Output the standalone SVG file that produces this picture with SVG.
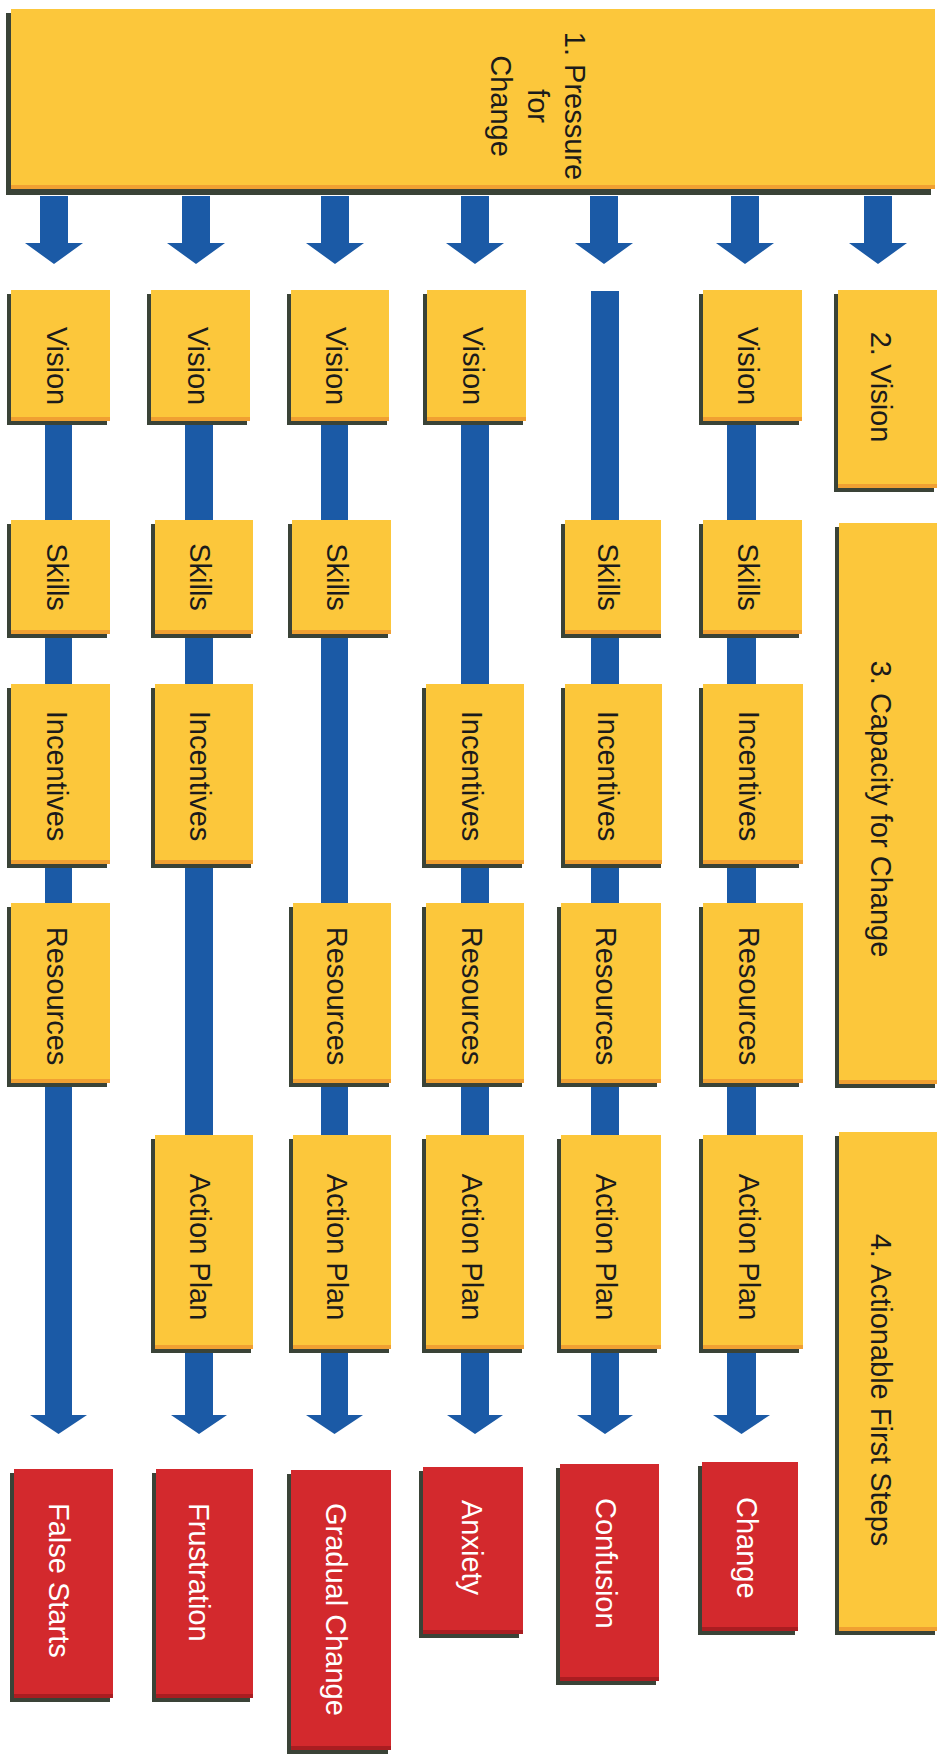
<svg xmlns="http://www.w3.org/2000/svg" width="948" height="1754" viewBox="0 0 948 1754">
<style>
.sh{fill:#3a4337}
.y{fill:#FCC73B}
.ye{fill:#F0A032}
.r{fill:#D3292D}
.re{fill:#A91D21}
.bl{fill:#1B5AA6}
.t{font-family:"Liberation Sans",Arial,sans-serif;font-size:29px}
.tk{fill:#1b1b1b;text-anchor:middle}
.tw{fill:#ffffff;text-anchor:start}
</style>
<rect width="948" height="1754" fill="#ffffff"/>

<g id="connectors">
  <!-- arrows from Pressure for Change -->
  <polygon class="bl" points="40,196 68,196 68,243 83,243 54,264 25,243 40,243"/>
  <polygon class="bl" points="182,196 210,196 210,243 225,243 196,264 167,243 182,243"/>
  <polygon class="bl" points="321,196 349,196 349,243 364,243 335,264 306,243 321,243"/>
  <polygon class="bl" points="461,196 489,196 489,243 504,243 475,264 446,243 461,243"/>
  <polygon class="bl" points="590,196 618,196 618,243 633,243 604,264 575,243 590,243"/>
  <polygon class="bl" points="731,196 759,196 759,243 774,243 745,264 716,243 731,243"/>
  <polygon class="bl" points="864,196 892,196 892,243 907,243 878,264 849,243 864,243"/>
  <!-- column lines with arrowheads to outcomes -->
  <polygon class="bl" points="45,291 72,291 72,1415 87,1415 58.5,1434 30,1415 45,1415"/>
  <polygon class="bl" points="185,291 213,291 213,1415 227,1415 199,1434 171,1415 185,1415"/>
  <polygon class="bl" points="321,291 348,291 348,1415 363,1415 334.5,1434 306,1415 321,1415"/>
  <polygon class="bl" points="461,291 489,291 489,1415 503,1415 475,1434 447,1415 461,1415"/>
  <polygon class="bl" points="591,291 619,291 619,1415 633,1415 605,1434 577,1415 591,1415"/>
  <polygon class="bl" points="727,291 756,291 756,1415 770,1415 741.5,1434 713,1415 727,1415"/>
</g>

<g id="pressure">
  <rect class="sh" x="6" y="13" width="925" height="182"/>
  <rect class="y" x="11" y="9" width="924" height="180"/>
  <rect class="ye" x="11" y="185" width="924" height="4"/>
  <text class="t tk" transform="translate(538,106) rotate(90)"><tspan x="0" y="-26.5">1. Pressure</tspan><tspan x="0" dy="37">for</tspan><tspan x="0" dy="37">Change</tspan></text>
</g>

<!-- Column 1 -->
<g id="c1-vision"><rect class="sh" x="7" y="294" width="100" height="131"/><rect class="y" x="11" y="290" width="99" height="131"/><rect class="ye" x="11" y="417" width="99" height="4"/><text class="t tk" transform="translate(57,366) rotate(90)" y="10.5">Vision</text></g>
<g id="c1-skills"><rect class="sh" x="7" y="524" width="100" height="114"/><rect class="y" x="11" y="520" width="99" height="114"/><rect class="ye" x="11" y="630" width="99" height="4"/><text class="t tk" transform="translate(57,577) rotate(90)" y="10.5">Skills</text></g>
<g id="c1-incentives"><rect class="sh" x="7" y="688" width="100" height="180"/><rect class="y" x="11" y="684" width="99" height="180"/><rect class="ye" x="11" y="860" width="99" height="4"/><text class="t tk" transform="translate(57,776) rotate(90)" y="10.5">Incentives</text></g>
<g id="c1-resources"><rect class="sh" x="7" y="907" width="100" height="180"/><rect class="y" x="11" y="903" width="99" height="180"/><rect class="ye" x="11" y="1079" width="99" height="4"/><text class="t tk" transform="translate(57,996) rotate(90)" y="10.5">Resources</text></g>

<!-- Column 2 -->
<g id="c2-vision"><rect class="sh" x="147" y="294" width="100" height="131"/><rect class="y" x="151" y="290" width="99" height="131"/><rect class="ye" x="151" y="417" width="99" height="4"/><text class="t tk" transform="translate(198,366) rotate(90)" y="10.5">Vision</text></g>
<g id="c2-skills"><rect class="sh" x="151" y="524" width="100" height="114"/><rect class="y" x="155" y="520" width="98" height="114"/><rect class="ye" x="155" y="630" width="98" height="4"/><text class="t tk" transform="translate(200,577) rotate(90)" y="10.5">Skills</text></g>
<g id="c2-incentives"><rect class="sh" x="151" y="688" width="100" height="180"/><rect class="y" x="155" y="684" width="98" height="180"/><rect class="ye" x="155" y="860" width="98" height="4"/><text class="t tk" transform="translate(200,776) rotate(90)" y="10.5">Incentives</text></g>
<g id="c2-actionplan"><rect class="sh" x="151" y="1139" width="100" height="214"/><rect class="y" x="155" y="1135" width="98" height="214"/><rect class="ye" x="155" y="1345" width="98" height="4"/><text class="t tk" transform="translate(200,1247) rotate(90)" y="10.5">Action Plan</text></g>

<!-- Column 3 -->
<g id="c3-vision"><rect class="sh" x="287" y="294" width="100" height="131"/><rect class="y" x="291" y="290" width="98" height="131"/><rect class="ye" x="291" y="417" width="98" height="4"/><text class="t tk" transform="translate(336,366) rotate(90)" y="10.5">Vision</text></g>
<g id="c3-skills"><rect class="sh" x="288" y="524" width="100" height="114"/><rect class="y" x="292" y="520" width="99" height="114"/><rect class="ye" x="292" y="630" width="99" height="4"/><text class="t tk" transform="translate(337,577) rotate(90)" y="10.5">Skills</text></g>
<g id="c3-resources"><rect class="sh" x="289" y="907" width="100" height="180"/><rect class="y" x="293" y="903" width="98" height="180"/><rect class="ye" x="293" y="1079" width="98" height="4"/><text class="t tk" transform="translate(337,996) rotate(90)" y="10.5">Resources</text></g>
<g id="c3-actionplan"><rect class="sh" x="289" y="1139" width="100" height="214"/><rect class="y" x="293" y="1135" width="98" height="214"/><rect class="ye" x="293" y="1345" width="98" height="4"/><text class="t tk" transform="translate(337,1247) rotate(90)" y="10.5">Action Plan</text></g>

<!-- Column 4 -->
<g id="c4-vision"><rect class="sh" x="423" y="294" width="100" height="131"/><rect class="y" x="427" y="290" width="99" height="131"/><rect class="ye" x="427" y="417" width="99" height="4"/><text class="t tk" transform="translate(473,366) rotate(90)" y="10.5">Vision</text></g>
<g id="c4-incentives"><rect class="sh" x="422" y="688" width="100" height="180"/><rect class="y" x="426" y="684" width="98" height="180"/><rect class="ye" x="426" y="860" width="98" height="4"/><text class="t tk" transform="translate(472,776) rotate(90)" y="10.5">Incentives</text></g>
<g id="c4-resources"><rect class="sh" x="422" y="907" width="100" height="180"/><rect class="y" x="426" y="903" width="98" height="180"/><rect class="ye" x="426" y="1079" width="98" height="4"/><text class="t tk" transform="translate(472,996) rotate(90)" y="10.5">Resources</text></g>
<g id="c4-actionplan"><rect class="sh" x="422" y="1139" width="100" height="214"/><rect class="y" x="426" y="1135" width="98" height="214"/><rect class="ye" x="426" y="1345" width="98" height="4"/><text class="t tk" transform="translate(472,1247) rotate(90)" y="10.5">Action Plan</text></g>

<!-- Column 5 -->
<g id="c5-skills"><rect class="sh" x="561" y="524" width="100" height="114"/><rect class="y" x="565" y="520" width="96" height="114"/><rect class="ye" x="565" y="630" width="96" height="4"/><text class="t tk" transform="translate(608,577) rotate(90)" y="10.5">Skills</text></g>
<g id="c5-incentives"><rect class="sh" x="561" y="688" width="100" height="180"/><rect class="y" x="565" y="684" width="97" height="180"/><rect class="ye" x="565" y="860" width="97" height="4"/><text class="t tk" transform="translate(608,776) rotate(90)" y="10.5">Incentives</text></g>
<g id="c5-resources"><rect class="sh" x="557" y="907" width="100" height="180"/><rect class="y" x="561" y="903" width="100" height="180"/><rect class="ye" x="561" y="1079" width="100" height="4"/><text class="t tk" transform="translate(606,996) rotate(90)" y="10.5">Resources</text></g>
<g id="c5-actionplan"><rect class="sh" x="557" y="1139" width="100" height="214"/><rect class="y" x="561" y="1135" width="100" height="214"/><rect class="ye" x="561" y="1345" width="100" height="4"/><text class="t tk" transform="translate(606,1247) rotate(90)" y="10.5">Action Plan</text></g>

<!-- Column 6 -->
<g id="c6-vision"><rect class="sh" x="699" y="294" width="100" height="131"/><rect class="y" x="703" y="290" width="99" height="131"/><rect class="ye" x="703" y="417" width="99" height="4"/><text class="t tk" transform="translate(748,366) rotate(90)" y="10.5">Vision</text></g>
<g id="c6-skills"><rect class="sh" x="699" y="524" width="100" height="114"/><rect class="y" x="703" y="520" width="99" height="114"/><rect class="ye" x="703" y="630" width="99" height="4"/><text class="t tk" transform="translate(748,577) rotate(90)" y="10.5">Skills</text></g>
<g id="c6-incentives"><rect class="sh" x="699" y="688" width="100" height="180"/><rect class="y" x="703" y="684" width="100" height="180"/><rect class="ye" x="703" y="860" width="100" height="4"/><text class="t tk" transform="translate(749,776) rotate(90)" y="10.5">Incentives</text></g>
<g id="c6-resources"><rect class="sh" x="699" y="907" width="100" height="180"/><rect class="y" x="703" y="903" width="100" height="180"/><rect class="ye" x="703" y="1079" width="100" height="4"/><text class="t tk" transform="translate(749,996) rotate(90)" y="10.5">Resources</text></g>
<g id="c6-actionplan"><rect class="sh" x="699" y="1139" width="100" height="214"/><rect class="y" x="703" y="1135" width="100" height="214"/><rect class="ye" x="703" y="1345" width="100" height="4"/><text class="t tk" transform="translate(749,1247) rotate(90)" y="10.5">Action Plan</text></g>

<!-- Legend -->
<g id="legend-vision"><rect class="sh" x="834" y="294" width="100" height="198"/><rect class="y" x="838" y="290" width="99" height="198"/><rect class="ye" x="838" y="484" width="99" height="4"/><text class="t tk" transform="translate(881,387) rotate(90)" y="10.5">2. Vision</text></g>
<g id="legend-capacity"><rect class="sh" x="835" y="527" width="100" height="561"/><rect class="y" x="839" y="523" width="98" height="561"/><rect class="ye" x="839" y="1080" width="98" height="4"/><text class="t tk" transform="translate(881,809) rotate(90)" y="10.5">3. Capacity for Change</text></g>
<g id="legend-actionable"><rect class="sh" x="835" y="1136" width="100" height="499"/><rect class="y" x="839" y="1132" width="98" height="499"/><rect class="ye" x="839" y="1627" width="98" height="4"/><text class="t tk" transform="translate(881,1390) rotate(90)" y="10.5">4. Actionable First Steps</text></g>

<!-- Outcomes -->
<g id="o-false-starts"><rect class="sh" x="10" y="1473" width="100" height="229"/><rect class="r" x="14" y="1469" width="99" height="229"/><rect class="re" x="14" y="1694" width="99" height="4"/><text class="t tw" transform="translate(59,1503) rotate(90)" y="10.5">False Starts</text></g>
<g id="o-frustration"><rect class="sh" x="152" y="1473" width="98" height="229"/><rect class="r" x="156" y="1469" width="97" height="229"/><rect class="re" x="156" y="1694" width="97" height="4"/><text class="t tw" transform="translate(199,1503) rotate(90)" y="10.5">Frustration</text></g>
<g id="o-gradual-change"><rect class="sh" x="287" y="1474" width="101" height="280"/><rect class="r" x="291" y="1470" width="100" height="280"/><rect class="re" x="291" y="1746" width="100" height="4"/><text class="t tw" transform="translate(336,1503) rotate(90)" y="10.5">Gradual Change</text></g>
<g id="o-anxiety"><rect class="sh" x="419" y="1471" width="100" height="167"/><rect class="r" x="423" y="1467" width="100" height="167"/><rect class="re" x="423" y="1630" width="100" height="4"/><text class="t tw" transform="translate(472,1500) rotate(90)" y="10.5">Anxiety</text></g>
<g id="o-confusion"><rect class="sh" x="556" y="1468" width="100" height="217"/><rect class="r" x="560" y="1464" width="99" height="217"/><rect class="re" x="560" y="1677" width="99" height="4"/><text class="t tw" transform="translate(606,1498) rotate(90)" y="10.5">Confusion</text></g>
<g id="o-change"><rect class="sh" x="698" y="1466" width="97" height="169"/><rect class="r" x="702" y="1462" width="96" height="169"/><rect class="re" x="702" y="1627" width="96" height="4"/><text class="t tw" transform="translate(747,1497) rotate(90)" y="10.5">Change</text></g>
</svg>
